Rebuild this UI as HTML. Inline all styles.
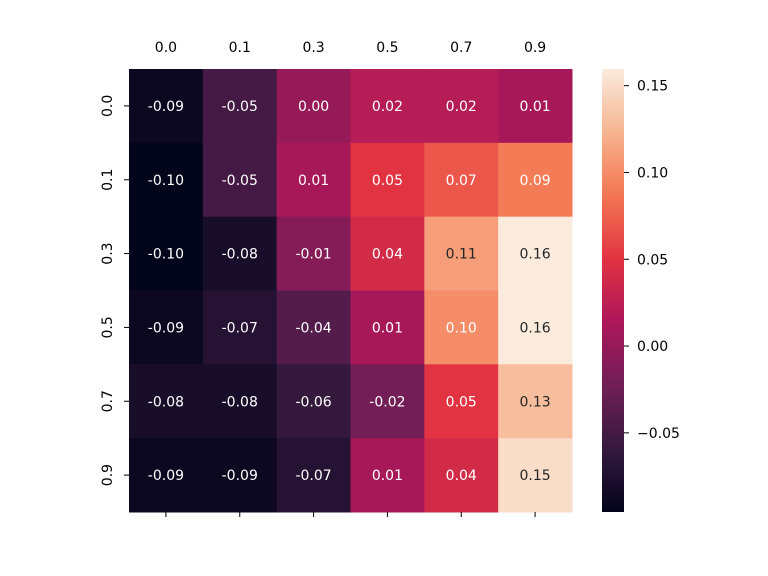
<!DOCTYPE html>
<html><head><meta charset="utf-8"><style>
body{margin:0;background:#fff;}
svg{display:block;font-family:"DejaVu Sans","Liberation Sans",sans-serif;}
</style></head><body>
<svg id="chart" width="768" height="576"></svg>
<script>
const colLabels=["0.0","0.1","0.3","0.5","0.7","0.9"];
const rowLabels=["0.0","0.1","0.3","0.5","0.7","0.9"];
const row0=[-0.09,-0.05,0.00,0.02,0.02,0.01];
const row1=[-0.10,-0.05,0.01,0.05,0.07,0.09];
const row2=[-0.10,-0.08,-0.01,0.04,0.11,0.16];
const row3=[-0.09,-0.07,-0.04,0.01,0.10,0.16];
const row4=[-0.08,-0.08,-0.06,-0.02,0.05,0.13];
const row5=[-0.09,-0.09,-0.07,0.01,0.04,0.15];
const cbTicks=[-0.05,0.00,0.05,0.10,0.15];
const cbTickLabels=["\u22120.05","0.00","0.05","0.10","0.15"];
const vmin=-0.0956, vmax=0.1596;

const rows=[row0,row1,row2,row3,row4,row5];
const NS="http://www.w3.org/2000/svg";
const svg=document.getElementById('chart');
const X0=129,X1=572,Y0=69,Y1=512;
const cw=(X1-X0)/colLabels.length, ch=(Y1-Y0)/rowLabels.length;
const xPos=i=>X0+i*cw, yPos=j=>Y0+j*ch;
const stops=[[0,[3,5,26]],[0.143,[53,25,62]],[0.286,[112,31,87]],[0.429,[173,23,89]],[0.571,[225,51,66]],[0.714,[243,118,81]],[0.857,[246,180,143]],[1,[250,235,221]]];
function cmap(t){t=Math.max(0,Math.min(1,t));for(let i=1;i<stops.length;i++){if(t<=stops[i][0]){const a=stops[i-1],b=stops[i];const f=(t-a[0])/(b[0]-a[0]);return a[1].map((c,k)=>Math.round(c+(b[1][k]-c)*f));}}return stops[stops.length-1][1];}
const norm=v=>(v-vmin)/(vmax-vmin);
function lum(c){const l=c.map(x=>{x/=255;return x<=0.03928?x/12.92:Math.pow((x+0.055)/1.055,2.4);});return 0.2126*l[0]+0.7152*l[1]+0.0722*l[2];}
function mk(tag,attrs,txt){const e=document.createElementNS(NS,tag);for(const k in attrs)e.setAttribute(k,attrs[k]);if(txt!==undefined)e.textContent=txt;svg.appendChild(e);return e;}
function fmt(v){const s=Math.abs(v).toFixed(2);return (v<0&&s!=="0.00"?"-":"")+s;}

rows.forEach((r,j)=>r.forEach((v,i)=>{
  const c=cmap(norm(v));
  const rect=mk('rect',{x:xPos(i),y:yPos(j),width:cw+0.5,height:ch+0.5,fill:`rgb(${c})`});
  
  
  const t=mk('text',{x:xPos(i)+cw/2,y:yPos(j)+ch/2+5,'text-anchor':'middle','font-size':14,fill:lum(c)>0.408?'#262626':'#ffffff'},fmt(v));
  
  
}));
colLabels.forEach((l,i)=>{
  const t=mk('text',{x:xPos(i)+cw/2,y:52,'text-anchor':'middle','font-size':14,fill:'#000'},l);
  
  
  const tk=mk('line',{x1:xPos(i)+cw/2,x2:xPos(i)+cw/2,y1:Y1,y2:Y1+5,stroke:'#000','stroke-width':1});
  
  
});
rowLabels.forEach((l,j)=>{
  const cy=yPos(j)+ch/2;
  const t=mk('text',{x:0,y:0,transform:`translate(112,${cy}) rotate(-90)`,'text-anchor':'middle','font-size':14,fill:'#000'},l);
  
  
  const tk=mk('line',{x1:X0-5,x2:X0,y1:cy,y2:cy,stroke:'#000','stroke-width':1});
  
  
});
// colorbar
const CX=602,CW=22;
const defs=mk('defs',{});
const g=document.createElementNS(NS,'linearGradient');
g.setAttribute('id','cb');g.setAttribute('x1','0');g.setAttribute('y1','1');g.setAttribute('x2','0');g.setAttribute('y2','0');
for(let k=0;k<=40;k++){const s=document.createElementNS(NS,'stop');s.setAttribute('offset',k/40);s.setAttribute('stop-color',`rgb(${cmap(k/40)})`);g.appendChild(s);}
defs.appendChild(g);
const cb=mk('rect',{x:CX,y:Y0,width:CW,height:Y1-Y0,fill:'url(#cb)'});


const cbY=v=>Y1-norm(v)*(Y1-Y0);
cbTicks.forEach((v,k)=>{
  const y=cbY(v);
  const tk=mk('line',{x1:CX+CW,x2:CX+CW+5,y1:y,y2:y,stroke:'#000','stroke-width':1});
  
  
  const t=mk('text',{x:CX+CW+13,y:y+5,'font-size':14,fill:'#000'},cbTickLabels[k]);
  
  
});
</script>
</body></html>
